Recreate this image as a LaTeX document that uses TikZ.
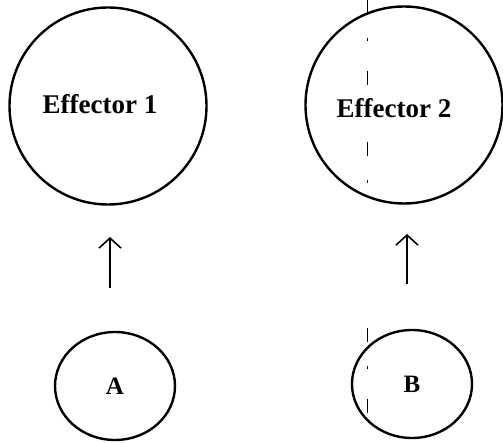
\documentclass[tikz,border=0pt]{standalone}
\usepackage{fontspec}
\setmainfont{Liberation Serif}
\usetikzlibrary{shapes.geometric,arrows.meta}
\tikzset{
  effector/.style={draw, circle, line width=2.4pt, minimum size=197pt, inner sep=0pt},
  label/.style={font=\bfseries\fontsize{27}{31}\selectfont},
  input/.style={draw, ellipse, line width=2.4pt, minimum width=120pt, minimum height=108pt, inner sep=0pt, font=\bfseries\fontsize{25}{29}\selectfont},
  pfeil/.style={line width=1.6pt, -{Straight Barb[length=10pt,width=22pt,line width=1.6pt]}},
  scanline/.style={line width=0.7pt, dash pattern=on 14pt off 24pt on 3pt off 30pt}
}
\begin{document}
\begin{tikzpicture}[x=1pt, y=-1pt]
\useasboundingbox (0,0) rectangle (503,443);
		%Effektoren
		\node[effector] (E1) at (108,106) {};
		\node[effector] (E2) at (404,105) {};
		\node[label] (t1) at (100,104) {Effector 1};
		\node[label] (t2) at (394,108) {Effector 2};
		
		%Eingaenge
		\node[input] (A) at (115,386) {A};
		\node[input] (B) at (412,384) {B};
		
		%Pfeile
		\coordinate (a0) at (110,288);
		\coordinate (a1) at (110,237);
		\coordinate (b0) at (407,284);
		\coordinate (b1) at (407,234);
		\draw[pfeil] (a0) -- (a1);
		\draw[pfeil] (b0) -- (b1);
		
		%Strichlinie
		\coordinate (s0) at (367,0);
		\coordinate (s1) at (367,205);
		\coordinate (s2) at (367,328);
		\coordinate (s3) at (367,427);
		\draw[scanline] (s0) -- (s1);
		\draw[scanline] (s2) -- (s3);
\end{tikzpicture}
\end{document}
